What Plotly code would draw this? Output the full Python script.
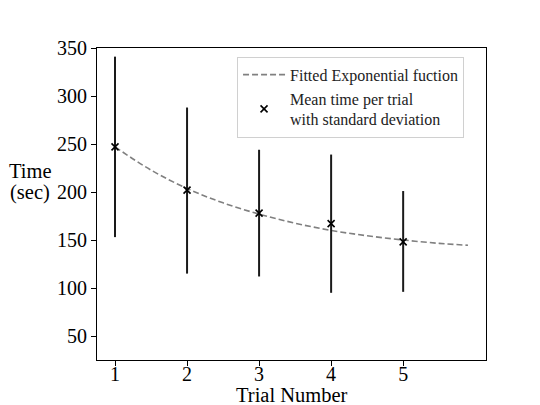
import plotly.graph_objects as go
import numpy as np

# mean trial time with +/- one standard deviation
trials = [1, 2, 3, 4, 5]
mean_time = [247, 202, 178, 167, 148]
upper = [341, 288, 244, 239, 201]
lower = [153, 115, 112, 95, 96]

# fitted exponential curve
fit_x = [1.0, 1.5, 2.0, 2.5, 3.0, 3.5, 4.0, 4.5, 5.0, 5.5, 5.9]
fit_y = [247, 222.8, 203.7, 188.7, 177, 167.5, 160, 154.4, 150, 146.5, 144.5]

err_plus = np.array(upper) - np.array(mean_time)
err_minus = np.array(mean_time) - np.array(lower)

FONT = "Liberation Serif"

fig = go.Figure()

fig.add_trace(go.Scatter(
    x=fit_x, y=fit_y,
    mode='lines',
    line=dict(color='#808080', width=1.6, dash='6px,3px', shape='spline'),
    name='Fitted Exponential fuction'
))

fig.add_trace(go.Scatter(
    x=trials, y=mean_time,
    mode='markers',
    marker=dict(symbol='x-thin', size=7, line=dict(color='black', width=1.6), color='black'),
    error_y=dict(type='data', array=err_plus, arrayminus=err_minus,
                 color='#1a1a1a', thickness=2, width=0),
    name='Mean time per trial<br>with standard deviation'
))

axis_common = dict(
    showline=True, linecolor='black', linewidth=1.2, mirror=True,
    ticks='outside', ticklen=5, tickwidth=1, tickcolor='black',
    showgrid=False, zeroline=False, automargin=False,
    tickfont=dict(family=FONT, size=20, color='black'),
)

fig.update_layout(
    width=540, height=405,
    margin=dict(l=97, r=54, t=48, b=45),
    paper_bgcolor='white', plot_bgcolor='white',
    font=dict(family=FONT, color='black'),
    xaxis=dict(range=[0.75, 6.15], tickvals=trials, ticklabelstandoff=-9, **axis_common),
    yaxis=dict(range=[25, 350], tickvals=[50, 100, 150, 200, 250, 300, 350], **axis_common),
    legend=dict(x=0.36, y=0.972, xanchor='left', yanchor='top',
                bgcolor='rgba(255,255,255,0.8)', bordercolor='#d0d0d0', borderwidth=1,
                font=dict(family=FONT, size=16, color='#222'),
                tracegroupgap=0, itemwidth=42),
    showlegend=True,
)

# axis labels as annotations so the plot box keeps its size
fig.add_annotation(
    text='Trial Number', xref='paper', yref='paper', x=0.5, y=-0.113,
    xanchor='center', yanchor='middle', showarrow=False,
    font=dict(family=FONT, size=20.5, color='black')
)
fig.add_annotation(
    text='Time', xref='paper', yref='y', x=-0.172, y=222,
    xanchor='center', yanchor='middle', showarrow=False,
    font=dict(family=FONT, size=20.5, color='black')
)
fig.add_annotation(
    text='(sec)', xref='paper', yref='y', x=-0.172, y=199,
    xanchor='center', yanchor='middle', showarrow=False,
    font=dict(family=FONT, size=20.5, color='black')
)

# page body has a default margin; drop it so the figure sits at the corner
fig.write_html("out.html", config={'displayModeBar': False},
               post_script="document.body.style.margin='0';")
